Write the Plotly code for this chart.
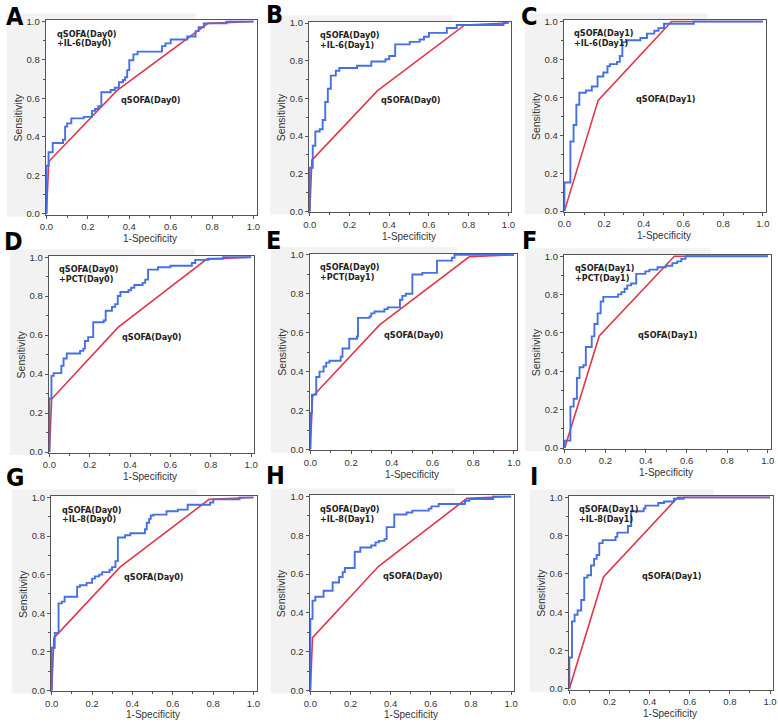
import plotly.graph_objects as go

# ---------------- data ----------------
# qSOFA reference ROC curves (red)
q0_fpr = [0.0, 0.011, 0.34, 0.78, 1.0]
q0_tpr = [0.0, 0.272, 0.64, 0.99, 1.0]
q1_fpr = [0.0, 0.17, 0.54, 1.0]
q1_tpr = [0.0, 0.584, 1.0, 1.0]

# combined-model ROC curves (blue), step corners: move right to fpr, then up to tpr
a_fpr = [0, 0, 0.01, 0.03, 0.08, 0.09, 0.10, 0.12, 0.18, 0.22, 0.235, 0.25, 0.265, 0.31, 0.33, 0.35, 0.37, 0.38, 0.39, 0.40, 0.42, 0.44, 0.558, 0.575, 0.60, 0.68, 0.72, 0.735, 0.76, 0.87, 1.0]
a_tpr = [0, 0.25, 0.32, 0.368, 0.385, 0.453, 0.47, 0.496, 0.504, 0.535, 0.545, 0.559, 0.632, 0.644, 0.655, 0.684, 0.696, 0.71, 0.747, 0.798, 0.829, 0.843, 0.872, 0.886, 0.906, 0.922, 0.95, 0.97, 0.99, 1.0, 1.0]

b_fpr = [0, 0, 0.015, 0.028, 0.05, 0.065, 0.078, 0.091, 0.106, 0.131, 0.149, 0.238, 0.31, 0.381, 0.40, 0.43, 0.503, 0.553, 0.575, 0.60, 0.69, 0.74, 0.975, 1.0]
b_tpr = [0, 0.232, 0.349, 0.424, 0.436, 0.485, 0.581, 0.651, 0.721, 0.747, 0.761, 0.773, 0.796, 0.808, 0.825, 0.887, 0.90, 0.913, 0.927, 0.948, 0.974, 0.99, 1.0, 1.0]

c_fpr = [0, 0, 0.03, 0.046, 0.06, 0.075, 0.108, 0.138, 0.167, 0.196, 0.217, 0.229, 0.265, 0.279, 0.292, 0.312, 0.383, 0.416, 0.453, 0.474, 0.502, 0.652, 1.0]
c_tpr = [0, 0.151, 0.367, 0.454, 0.561, 0.624, 0.636, 0.657, 0.71, 0.731, 0.764, 0.775, 0.787, 0.818, 0.891, 0.901, 0.913, 0.936, 0.951, 0.965, 0.988, 1.0, 1.0]

d_fpr = [0, 0, 0.01, 0.021, 0.059, 0.07, 0.086, 0.152, 0.168, 0.176, 0.192, 0.217, 0.269, 0.279, 0.31, 0.326, 0.339, 0.352, 0.392, 0.405, 0.421, 0.462, 0.475, 0.489, 0.538, 0.60, 0.706, 0.723, 0.788, 0.861, 1.0]
d_tpr = [0, 0.275, 0.391, 0.405, 0.443, 0.48, 0.506, 0.519, 0.531, 0.57, 0.59, 0.666, 0.675, 0.725, 0.745, 0.759, 0.801, 0.821, 0.83, 0.843, 0.857, 0.868, 0.885, 0.936, 0.948, 0.956, 0.97, 0.986, 0.992, 1.0, 1.0]

e_fpr = [0, 0, 0.008, 0.029, 0.045, 0.065, 0.078, 0.094, 0.149, 0.158, 0.191, 0.229, 0.234, 0.291, 0.299, 0.315, 0.364, 0.38, 0.44, 0.452, 0.469, 0.501, 0.55, 0.622, 0.695, 0.708, 1.0]
e_tpr = [0, 0.189, 0.282, 0.372, 0.40, 0.426, 0.446, 0.456, 0.476, 0.519, 0.569, 0.581, 0.676, 0.684, 0.699, 0.709, 0.721, 0.73, 0.769, 0.789, 0.80, 0.899, 0.907, 0.97, 0.985, 1.0, 1.0]

f_fpr = [0, 0, 0.028, 0.044, 0.06, 0.073, 0.092, 0.104, 0.133, 0.146, 0.162, 0.177, 0.19, 0.263, 0.279, 0.295, 0.308, 0.327, 0.352, 0.397, 0.417, 0.457, 0.498, 0.53, 0.554, 0.574, 0.595, 1.0]
f_tpr = [0, 0.039, 0.216, 0.257, 0.365, 0.421, 0.432, 0.527, 0.582, 0.647, 0.702, 0.764, 0.788, 0.801, 0.813, 0.83, 0.848, 0.858, 0.908, 0.921, 0.93, 0.942, 0.95, 0.964, 0.973, 0.986, 1.0, 1.0]

g_fpr = [0, 0, 0.015, 0.034, 0.05, 0.064, 0.126, 0.14, 0.173, 0.20, 0.214, 0.235, 0.25, 0.287, 0.299, 0.316, 0.328, 0.364, 0.39, 0.462, 0.471, 0.483, 0.491, 0.504, 0.569, 0.625, 0.674, 0.785, 0.801, 0.931, 1.0]
g_tpr = [0, 0.221, 0.298, 0.451, 0.46, 0.485, 0.537, 0.545, 0.557, 0.579, 0.591, 0.60, 0.613, 0.625, 0.639, 0.67, 0.792, 0.804, 0.814, 0.835, 0.869, 0.889, 0.906, 0.911, 0.928, 0.937, 0.962, 0.974, 0.99, 1.0, 1.0]

h_fpr = [0, 0, 0.011, 0.025, 0.066, 0.111, 0.143, 0.161, 0.172, 0.221, 0.249, 0.303, 0.325, 0.341, 0.369, 0.38, 0.418, 0.479, 0.508, 0.59, 0.603, 0.639, 0.77, 0.792, 0.91, 1.0]
h_tpr = [0, 0.369, 0.463, 0.483, 0.514, 0.556, 0.585, 0.61, 0.631, 0.715, 0.737, 0.747, 0.763, 0.771, 0.78, 0.842, 0.907, 0.917, 0.927, 0.937, 0.949, 0.961, 0.978, 0.987, 1.0, 1.0]

i_fpr = [0, 0, 0.013, 0.026, 0.041, 0.059, 0.074, 0.09, 0.108, 0.123, 0.136, 0.149, 0.166, 0.23, 0.239, 0.292, 0.308, 0.37, 0.379, 0.443, 0.472, 0.521, 0.57, 1.0]
i_tpr = [0, 0.163, 0.352, 0.387, 0.409, 0.464, 0.581, 0.593, 0.644, 0.679, 0.699, 0.761, 0.777, 0.794, 0.816, 0.851, 0.928, 0.942, 0.957, 0.971, 0.979, 0.993, 1.0, 1.0]

panel_letters = ["A", "B", "C", "D", "E", "F", "G", "H", "I"]
model_line1 = ["qSOFA(Day0)", "qSOFA(Day0)", "qSOFA(Day1)", "qSOFA(Day0)", "qSOFA(Day0)",
               "qSOFA(Day1)", "qSOFA(Day0)", "qSOFA(Day0)", "qSOFA(Day1)"]
model_line2 = ["+IL-6(Day0)", "+IL-6(Day1)", "+IL-6(Day1)", "+PCT(Day0)", "+PCT(Day1)",
               "+PCT(Day1)", "+IL-8(Day0)", "+IL-8(Day1)", "+IL-8(Day1)"]
ref_label = ["qSOFA(Day0)", "qSOFA(Day0)", "qSOFA(Day1)", "qSOFA(Day0)", "qSOFA(Day0)",
             "qSOFA(Day1)", "qSOFA(Day0)", "qSOFA(Day0)", "qSOFA(Day1)"]
tick_vals = [0.0, 0.2, 0.4, 0.6, 0.8, 1.0]
tick_text = ["0.0", "0.2", "0.4", "0.6", "0.8", "1.0"]
x_title = "1-Specificity"
y_title = "Sensitivity"

blue_x = [a_fpr, b_fpr, c_fpr, d_fpr, e_fpr, f_fpr, g_fpr, h_fpr, i_fpr]
blue_y = [a_tpr, b_tpr, c_tpr, d_tpr, e_tpr, f_tpr, g_tpr, h_tpr, i_tpr]
red_x = [q0_fpr, q0_fpr, q1_fpr, q0_fpr, q0_fpr, q1_fpr, q0_fpr, q0_fpr, q1_fpr]
red_y = [q0_tpr, q0_tpr, q1_tpr, q0_tpr, q0_tpr, q1_tpr, q0_tpr, q0_tpr, q1_tpr]

# ---------------- layout geometry (pixels) ----------------
W, H = 778, 726
# pixel of value 0 and 1 on x, and of value 0 and 1 on y
geom = [
    (41.0, 250.7, 211.7, 16.7),
    (307.7, 509.0, 209.3, 18.3),
    (565.7, 766.7, 209.0, 16.7),
    (44.0, 248.3, 453.3, 255.7),
    (308.3, 514.6, 450.7, 253.3),
    (566.0, 771.7, 449.3, 254.7),
    (46.3, 250.7, 695.0, 499.3),
    (308.3, 511.7, 695.0, 498.3),
    (570.7, 774.0, 693.3, 499.3),
]
letter_pos = [(9, 12), (272, 10), (530, 12), (8, 240), (271, 239), (530, 239),
              (9, 479), (273, 477), (535, 478)]
xtitle_off = [25, 25, 25, 25, 25, 25, 24, 24, 25]
XR = (-0.004, 1.015)
YR = (-0.004, 1.006)

BLUE = "#4470e4"
RED = "#e0374d"
AXC = "#555555"
TXT = "#222222"
GRAY_BG = "#f2f2f2"
TICKFONT = dict(family="Liberation Sans, Arial, sans-serif", size=9.5, color="#333333")
LABFONT = dict(family="DejaVu Sans Condensed, Liberation Sans Narrow, Liberation Sans, Arial, sans-serif",
               size=9, color=TXT)

fig = go.Figure()
layout = dict(width=W, height=H, margin=dict(l=0, r=0, t=0, b=0),
              paper_bgcolor="white", plot_bgcolor="white", showlegend=False)
annotations = []
shapes = []

for k in range(9):
    n = "" if k == 0 else str(k + 1)
    x0p, x1p, y0p, y1p = geom[k]
    wx = x1p - x0p
    hy = y0p - y1p
    dl = (x0p + XR[0] * wx) / W
    dr = (x0p + XR[1] * wx) / W
    db = 1 - (y0p - YR[0] * hy) / H
    dt = 1 - (y0p - YR[1] * hy) / H

    # light gray scan background (left strip and top strip, outside the plot area)
    shapes.append(dict(type="rect", xref="paper", yref="paper", layer="below",
                       x0=(x0p - 40) / W, x1=dl,
                       y0=1 - (y0p + 3) / H, y1=1 - (y1p - 8) / H,
                       fillcolor=GRAY_BG, line=dict(width=0)))
    shapes.append(dict(type="rect", xref="paper", yref="paper", layer="below",
                       x0=dl, x1=(x0p + 0.72 * wx) / W,
                       y0=dt, y1=1 - (y1p - 8) / H,
                       fillcolor=GRAY_BG, line=dict(width=0)))

    axis_common = dict(showline=True, linecolor=AXC, linewidth=1, mirror=True,
                       ticks="outside", ticklen=3, tickwidth=1, tickcolor=AXC,
                       tickvals=tick_vals, ticktext=tick_text, tickfont=TICKFONT,
                       showgrid=False, zeroline=False, fixedrange=True,
                       minor=dict(ticks="outside", ticklen=2, tickcolor=AXC, dtick=0.1, tick0=0,
                                  showgrid=False))
    layout["xaxis" + n] = dict(axis_common, domain=[dl, dr], range=list(XR), anchor="y" + n)
    layout["yaxis" + n] = dict(axis_common, domain=[db, dt], range=list(YR), anchor="x" + n)

    fig.add_trace(go.Scatter(x=red_x[k], y=red_y[k], mode="lines",
                             line=dict(color=RED, width=1.6),
                             xaxis="x" + n, yaxis="y" + n, hoverinfo="skip"))
    fig.add_trace(go.Scatter(x=blue_x[k], y=blue_y[k], mode="lines",
                             line=dict(color=BLUE, width=1.9, shape="hv"),
                             xaxis="x" + n, yaxis="y" + n, hoverinfo="skip"))

    annotations.append(dict(xref="x" + n, yref="y" + n, x=0.04, y=0.937, text="<b>" + model_line1[k] + "</b>",
                            showarrow=False, xanchor="left", yanchor="middle", font=LABFONT))
    annotations.append(dict(xref="x" + n, yref="y" + n, x=0.04, y=0.886, text="<b>" + model_line2[k] + "</b>",
                            showarrow=False, xanchor="left", yanchor="middle", font=LABFONT))
    annotations.append(dict(xref="x" + n, yref="y" + n, x=0.35, y=0.59, text="<b>" + ref_label[k] + "</b>",
                            showarrow=False, xanchor="left", yanchor="middle", font=LABFONT))
    # axis titles
    annotations.append(dict(xref="paper", yref="paper", x=(x0p + 0.5 * wx) / W, y=1 - (y0p + xtitle_off[k]) / H,
                            text=x_title, showarrow=False, xanchor="center", yanchor="middle",
                            font=dict(family="Liberation Sans, Arial, sans-serif", size=10, color="#333333")))
    annotations.append(dict(xref="paper", yref="paper", x=(x0p - 29) / W, y=1 - (y0p - 0.5 * hy) / H,
                            text=y_title, showarrow=False, xanchor="center", yanchor="middle", textangle=-90,
                            font=dict(family="Liberation Sans, Arial, sans-serif", size=10.5, color="#333333")))
    # panel letter
    lx, ly = letter_pos[k]
    annotations.append(dict(xref="paper", yref="paper", x=lx / W, y=1 - ly / H,
                            text="<b>" + panel_letters[k] + "</b>", showarrow=False,
                            xanchor="center", yanchor="middle",
                            font=dict(family="DejaVu Sans Condensed, Liberation Sans Narrow, Liberation Sans, Arial, sans-serif",
                                      size=25, color="#000000")))

layout["annotations"] = annotations
layout["shapes"] = shapes
fig.update_layout(**layout)
fig.write_html("out.html", config={"displayModeBar": False},
               post_script="document.body.style.margin='0';document.body.style.overflow='hidden';")
